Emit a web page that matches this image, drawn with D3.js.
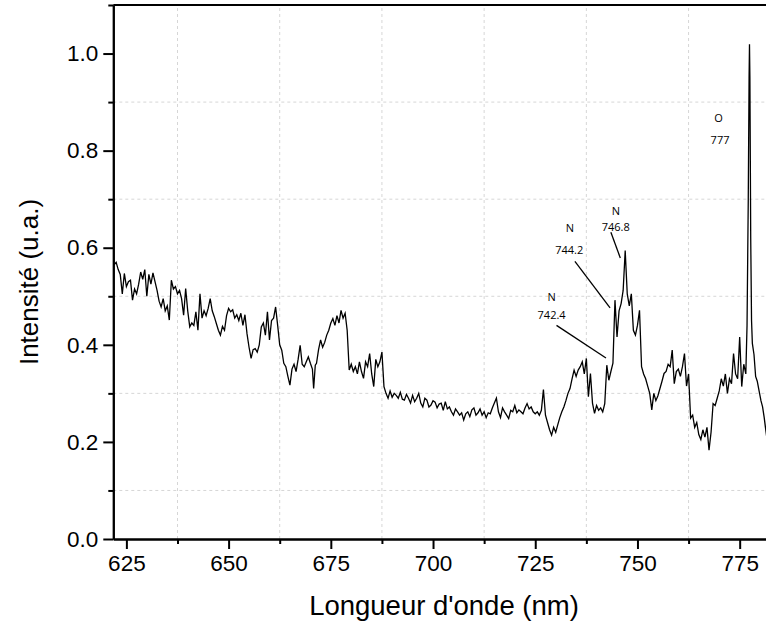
<!DOCTYPE html>
<html>
<head>
<meta charset="utf-8">
<script src="https://cdn.jsdelivr.net/npm/d3@7"></script>
<style>
  html, body { margin: 0; padding: 0; background: #fff; }
  svg { display: block; }
</style>
</head>
<body>
<svg id="chart" width="766" height="623"></svg>
<script>
// ---- data ----
const wavelength = [
  622.0, 622.5, 623.0, 623.5, 624.0, 624.5, 625.0, 625.5, 626.0, 626.5,
  627.0, 627.5, 628.0, 628.5, 629.0, 629.5, 630.0, 630.5, 631.0, 631.5,
  632.0, 632.5, 633.0, 633.5, 634.0, 634.5, 635.0, 635.5, 636.0, 636.5,
  637.0, 637.5, 638.0, 638.5, 639.0, 639.5, 640.0, 640.5, 641.0, 641.5,
  642.0, 642.5, 643.0, 643.5, 644.0, 644.5, 645.0, 645.5, 646.0, 646.5,
  647.0, 647.5, 648.0, 648.5, 649.0, 649.5, 650.0, 650.5, 651.0, 651.5,
  652.0, 652.5, 653.0, 653.5, 654.0, 654.5, 655.0, 655.5, 656.0, 656.5,
  657.0, 657.5, 658.0, 658.5, 659.0, 659.5, 660.0, 660.5, 661.0, 661.5,
  662.0, 662.5, 663.0, 663.5, 664.0, 664.5, 665.0, 665.5, 666.0, 666.5,
  667.0, 667.5, 668.0, 668.5, 669.0, 669.5, 670.0, 670.5, 670.8, 671.2,
  671.5, 672.0, 672.5, 673.0, 673.5, 674.0, 674.5, 675.0, 675.5, 676.0,
  676.5, 677.0, 677.5, 678.0, 678.5, 679.0, 679.5, 680.0, 680.5, 681.0,
  681.5, 682.0, 682.5, 683.0, 683.5, 684.0, 684.5, 685.0, 685.5, 686.0,
  686.5, 687.0, 687.5, 688.0, 688.5, 689.0, 689.5, 690.0, 690.5, 691.0,
  691.5, 692.0, 692.5, 693.0, 693.5, 694.0, 694.5, 695.0, 695.5, 696.0,
  696.5, 697.0, 697.5, 698.0, 698.5, 699.0, 699.5, 700.0, 700.5, 701.0,
  701.5, 702.0, 702.5, 703.0, 703.5, 704.0, 704.5, 705.0, 705.5, 706.0,
  706.5, 707.0, 707.5, 708.0, 708.5, 709.0, 709.5, 710.0, 710.5, 711.0,
  711.5, 712.0, 712.5, 713.0, 713.5, 714.0, 714.5, 715.0, 715.5, 716.0,
  716.5, 717.0, 717.5, 718.0, 718.5, 719.0, 719.5, 720.0, 720.5, 721.0,
  721.5, 722.0, 722.5, 723.0, 723.5, 724.0, 724.5, 725.0, 725.5, 726.0,
  726.5, 727.0, 727.5, 728.0, 728.5, 729.0, 729.5, 730.0, 730.5, 731.0,
  731.5, 732.0, 732.5, 733.0, 733.5, 734.0, 734.5, 735.0, 735.5, 736.0,
  736.5, 737.0, 737.5, 738.0, 738.5, 739.0, 739.5, 740.0, 740.5, 741.0,
  741.5, 742.0, 742.5, 743.0, 743.5, 744.0, 744.5, 745.0, 745.5, 746.0,
  746.5, 747.0, 747.5, 748.0, 748.5, 749.0, 749.5, 750.0, 750.5, 751.0,
  751.5, 752.0, 752.5, 753.0, 753.5, 754.0, 754.5, 755.0, 755.5, 756.0,
  756.5, 757.0, 757.5, 758.0, 758.5, 759.0, 759.5, 760.0, 760.5, 761.0,
  761.5, 762.0, 762.5, 763.0, 763.5, 764.0, 764.5, 765.0, 765.5, 766.0,
  766.5, 767.0, 767.5, 768.0, 768.5, 769.0, 769.5, 770.0, 770.5, 771.0,
  771.5, 772.0, 772.5, 773.0, 773.5, 774.0, 774.5, 775.0, 775.5, 776.0,
  776.5, 776.8, 777.1, 777.3, 777.4, 777.5, 777.7, 777.9, 778.1, 778.5,
  778.9, 779.3, 779.7, 780.2, 780.6, 781.0, 781.3, 781.6
];
const intensity = [
  0.565, 0.570, 0.555, 0.545, 0.505, 0.547, 0.520, 0.530, 0.533, 0.492,
  0.515, 0.505, 0.525, 0.550, 0.535, 0.555, 0.500, 0.545, 0.525, 0.548,
  0.530, 0.512, 0.490, 0.478, 0.495, 0.470, 0.480, 0.451, 0.533, 0.515,
  0.520, 0.505, 0.512, 0.495, 0.461, 0.516, 0.470, 0.437, 0.445, 0.440,
  0.468, 0.430, 0.505, 0.455, 0.470, 0.460, 0.475, 0.495, 0.470, 0.458,
  0.444, 0.430, 0.420, 0.438, 0.430, 0.460, 0.475, 0.468, 0.472, 0.455,
  0.462, 0.450, 0.465, 0.440, 0.462, 0.423, 0.395, 0.372, 0.390, 0.392,
  0.385, 0.400, 0.437, 0.445, 0.420, 0.468, 0.410, 0.450, 0.455, 0.478,
  0.440, 0.400, 0.389, 0.362, 0.355, 0.335, 0.317, 0.350, 0.360, 0.345,
  0.370, 0.399, 0.360, 0.355, 0.365, 0.375, 0.362, 0.350, 0.310, 0.358,
  0.362, 0.390, 0.410, 0.395, 0.405, 0.420, 0.430, 0.445, 0.454, 0.440,
  0.460, 0.445, 0.471, 0.455, 0.465, 0.430, 0.348, 0.360, 0.345, 0.355,
  0.340, 0.365, 0.345, 0.331, 0.365, 0.355, 0.382, 0.340, 0.314, 0.370,
  0.355, 0.365, 0.385, 0.314, 0.300, 0.290, 0.305, 0.292, 0.300, 0.296,
  0.290, 0.302, 0.288, 0.286, 0.298, 0.290, 0.280, 0.296, 0.283, 0.290,
  0.300, 0.280, 0.272, 0.290, 0.286, 0.272, 0.276, 0.285, 0.282, 0.270,
  0.278, 0.280, 0.265, 0.283, 0.268, 0.272, 0.262, 0.255, 0.268, 0.262,
  0.255, 0.260, 0.245, 0.258, 0.262, 0.252, 0.266, 0.270, 0.255, 0.260,
  0.268, 0.255, 0.262, 0.250, 0.260, 0.258, 0.270, 0.280, 0.290, 0.262,
  0.250, 0.270, 0.262, 0.255, 0.248, 0.265, 0.262, 0.275, 0.260, 0.266,
  0.262, 0.258, 0.270, 0.279, 0.268, 0.272, 0.262, 0.258, 0.262, 0.255,
  0.265, 0.308, 0.255, 0.240, 0.225, 0.214, 0.230, 0.220, 0.235, 0.250,
  0.262, 0.272, 0.285, 0.300, 0.310, 0.330, 0.348, 0.335, 0.348, 0.355,
  0.365, 0.340, 0.372, 0.293, 0.341, 0.280, 0.259, 0.275, 0.265, 0.270,
  0.262, 0.279, 0.358, 0.327, 0.345, 0.362, 0.492, 0.416, 0.470, 0.485,
  0.512, 0.594, 0.505, 0.480, 0.505, 0.430, 0.420, 0.440, 0.471, 0.355,
  0.340, 0.330, 0.315, 0.300, 0.266, 0.300, 0.285, 0.295, 0.310, 0.325,
  0.341, 0.345, 0.360, 0.355, 0.389, 0.320, 0.345, 0.350, 0.335, 0.355,
  0.382, 0.315, 0.340, 0.249, 0.255, 0.230, 0.240, 0.215, 0.205, 0.225,
  0.210, 0.230, 0.183, 0.220, 0.279, 0.275, 0.290, 0.305, 0.330, 0.315,
  0.340, 0.300, 0.330, 0.320, 0.382, 0.340, 0.330, 0.416, 0.314, 0.360,
  0.340, 0.440, 0.700, 0.950, 1.019, 0.950, 0.620, 0.450, 0.403, 0.380,
  0.335, 0.325, 0.307, 0.285, 0.272, 0.250, 0.230, 0.211
];

const xMajorTicks = [625, 650, 675, 700, 725, 750, 775];
const xMinorTicks = [637.5, 662.5, 687.5, 712.5, 737.5, 762.5];
const yMajorTicks = [0.0, 0.2, 0.4, 0.6, 0.8, 1.0];
const yMinorTicks = [0.1, 0.3, 0.5, 0.7, 0.9, 1.1];

// annotations: element, wavelength label, label anchor, leader line (data coords)
const annoElement = ["O", "N", "N", "N"];
const annoLine2   = ["777", "746.8", "744.2", "742.4"];
const annoPos1    = [[769.8, 0.868], [744.7, 0.677], [733.5, 0.642], [729.0, 0.499]];
const annoPos2    = [[770.2, 0.823], [744.7, 0.644], [733.3, 0.597], [729.0, 0.463]];
const annoLeader  = [null,
                     [[743.5, 0.632], [745.8, 0.579]],
                     [[734.7, 0.572], [743.3, 0.476]],
                     [[730.2, 0.440], [742.3, 0.373]]];

const xTitle = "Longueur d'onde (nm)";
const yTitle = "Intensité (u.a.)";

// ---- drawing ----
const svg = d3.select("#chart");
const x = d3.scaleLinear().domain([621.8, 782]).range([113.3, 768.3]);
const y = d3.scaleLinear().domain([0, 1.1]).range([539, 5]);
const fontAxis = "'Liberation Sans', Arial, Helvetica, sans-serif";

// grid (dashed, at minor ticks)
const grid = svg.append("g");
grid.selectAll("line.gx").data(xMinorTicks).join("line")
  .attr("x1", d => x(d)).attr("x2", d => x(d))
  .attr("y1", y(0)).attr("y2", y(1.1))
  .attr("stroke", "#d6d6d6").attr("stroke-width", 1).attr("stroke-dasharray", "3,3");
grid.selectAll("line.gy").data(yMinorTicks.filter(v => v < 1.1)).join("line")
  .attr("x1", x.range()[0]).attr("x2", x.range()[1])
  .attr("y1", d => y(d)).attr("y2", d => y(d))
  .attr("stroke", "#d6d6d6").attr("stroke-width", 1).attr("stroke-dasharray", "3,3");

// spectrum line
svg.append("defs").append("clipPath").attr("id", "clip")
  .append("rect").attr("x", x.range()[0]).attr("y", y(1.1))
  .attr("width", x.range()[1] - x.range()[0]).attr("height", y(0) - y(1.1));
const pts = wavelength.map((w, i) => [w, intensity[i]]);
svg.append("path")
  .datum(pts)
  .attr("clip-path", "url(#clip)")
  .attr("fill", "none")
  .attr("stroke", "#000")
  .attr("stroke-width", 1.3)
  .attr("stroke-linejoin", "miter")
  .attr("d", d3.line().x(d => x(d[0])).y(d => y(d[1])));

// axes
function styleAxis(g) {
  g.selectAll(".domain").attr("stroke", "#000").attr("stroke-width", 2);
  g.selectAll(".tick line").attr("stroke", "#000").attr("stroke-width", 2);
  g.selectAll(".tick text").attr("font-family", fontAxis).attr("font-size", 22.5).attr("fill", "#000");
}
svg.append("g").attr("transform", `translate(0,${y(0)})`)
  .call(d3.axisBottom(x).tickValues(xMinorTicks).tickSize(5).tickSizeOuter(0).tickFormat(""))
  .call(styleAxis);
svg.append("g").attr("transform", `translate(0,${y(0)})`)
  .call(d3.axisBottom(x).tickValues(xMajorTicks).tickSize(10).tickSizeOuter(0).tickPadding(6).tickFormat(d3.format("d")))
  .call(styleAxis);
svg.append("g").attr("transform", `translate(${x.range()[0]},0)`)
  .call(d3.axisLeft(y).tickValues(yMinorTicks).tickSize(5).tickSizeOuter(0).tickFormat(""))
  .call(styleAxis);
svg.append("g").attr("transform", `translate(${x.range()[0]},0)`)
  .call(d3.axisLeft(y).tickValues(yMajorTicks).tickSize(10).tickSizeOuter(0).tickPadding(5).tickFormat(d3.format(".1f")))
  .call(styleAxis);
svg.append("line")
  .attr("x1", x.range()[0]).attr("x2", x.range()[1])
  .attr("y1", y(1.1)).attr("y2", y(1.1))
  .attr("stroke", "#000").attr("stroke-width", 2);

// titles
svg.append("text")
  .attr("x", 444).attr("y", 615)
  .attr("text-anchor", "middle")
  .attr("font-family", fontAxis).attr("font-size", 27.5).attr("fill", "#000")
  .text(xTitle);
svg.append("text")
  .attr("transform", `translate(38,282) rotate(-90)`)
  .attr("text-anchor", "middle")
  .attr("font-family", fontAxis).attr("font-size", 26).attr("fill", "#000")
  .text(yTitle);

// annotations
const fontAnno = "'Open Sans', 'Noto Sans', sans-serif";
const ag = svg.append("g");
annoElement.forEach((el, i) => {
  ag.append("text").attr("x", x(annoPos1[i][0])).attr("y", y(annoPos1[i][1]))
    .attr("text-anchor", "middle").attr("dominant-baseline", "central")
    .attr("font-family", fontAnno).attr("font-size", 11).attr("fill", "#000")
    .text(el);
  ag.append("text").attr("x", x(annoPos2[i][0])).attr("y", y(annoPos2[i][1]))
    .attr("text-anchor", "middle").attr("dominant-baseline", "central")
    .attr("font-family", fontAnno).attr("font-size", 11).attr("fill", "#000")
    .text(annoLine2[i]);
  if (annoLeader[i]) {
    ag.append("line")
      .attr("x1", x(annoLeader[i][0][0])).attr("y1", y(annoLeader[i][0][1]))
      .attr("x2", x(annoLeader[i][1][0])).attr("y2", y(annoLeader[i][1][1]))
      .attr("stroke", "#000").attr("stroke-width", 1.3);
  }
});
</script>
</body>
</html>
